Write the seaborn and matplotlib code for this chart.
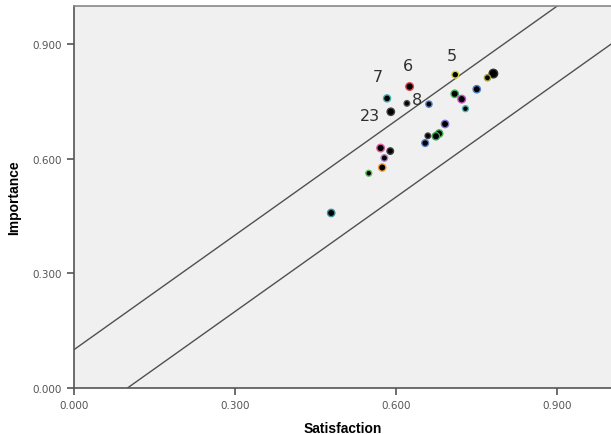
import seaborn as sns
import matplotlib.pyplot as plt
import pandas as pd

# satisfaction / importance per item
satisfaction = [0.710, 0.781, 0.770, 0.625, 0.750, 0.709, 0.722, 0.583, 0.620, 0.661,
                0.729, 0.590, 0.691, 0.680, 0.674, 0.659, 0.654, 0.571, 0.589, 0.578,
                0.574, 0.549, 0.479]
importance = [0.820, 0.823, 0.812, 0.789, 0.782, 0.770, 0.756, 0.758, 0.745, 0.743,
              0.731, 0.723, 0.691, 0.666, 0.659, 0.660, 0.641, 0.628, 0.620, 0.602,
              0.577, 0.562, 0.458]
rim_colors = ['#d8d040', '#303030', '#a0a040', '#e04848', '#5080d0', '#40b050', '#c050c0',
              '#40b0b0', '#505050', '#5080c0', '#50b0b0', '#404040', '#8070d0', '#40b050',
              '#40a050', '#404040', '#5080c0', '#e060a0', '#404040', '#b080d0',
              '#f0a040', '#60c060', '#4090a0']
dot_sizes = [24, 38, 20, 30, 28, 28, 30, 26, 16, 20, 18, 28, 28, 28, 28, 16, 24, 30, 22, 22,
             28, 18, 28]

labels = ['5', '6', '7', '8', '23']
label_x = [0.703, 0.622, 0.566, 0.638, 0.551]
label_y = [0.869, 0.843, 0.814, 0.754, 0.712]

ticks = [0.0, 0.3, 0.6, 0.9]

df = pd.DataFrame({'Satisfaction': satisfaction, 'Importance': importance})

fig = plt.figure(figsize=(6.11, 4.35), dpi=100)
ax = fig.add_axes([0.121, 0.106, 0.879, 0.878])
ax.set_facecolor('#f0f0f0')

# reference lines y = x +/- 0.1
ax.plot([0, 1], [0.1, 1.1], color='#505050', lw=1)
ax.plot([0.1, 1.1], [0, 1], color='#505050', lw=1)

sns.scatterplot(data=df, x='Satisfaction', y='Importance', ax=ax, color='black',
                edgecolor=rim_colors, linewidth=1.0, s=dot_sizes, zorder=3, legend=False)

for t, x, y in zip(labels, label_x, label_y):
    ax.text(x, y, t, ha='center', va='center', fontsize=11.5, color='#303030',
            family='DejaVu Sans')

ax.set_xlim(0, 1.0)
ax.set_ylim(0, 1.0)
ax.set_xticks(ticks)
ax.set_yticks(ticks)
ax.set_xticklabels([f'{t:.3f}' for t in ticks])
ax.set_yticklabels([f'{t:.3f}' for t in ticks])
ax.tick_params(labelsize=7.5, colors='#555555', length=5, width=1.2, labelcolor='#555555')
for sp in ax.spines.values():
    sp.set_color('#555555')
    sp.set_linewidth(1.2)
ax.spines['top'].set_color('#888888')
ax.spines['right'].set_visible(False)

ax.set_xlabel('Satisfaction', fontsize=10, fontweight='bold', family='Liberation Sans',
              labelpad=8)
ax.set_ylabel('Importance', fontsize=10, fontweight='bold',
              family=['Liberation Sans Narrow', 'Liberation Sans'], labelpad=8)

fig.savefig('out.png', dpi=100)
